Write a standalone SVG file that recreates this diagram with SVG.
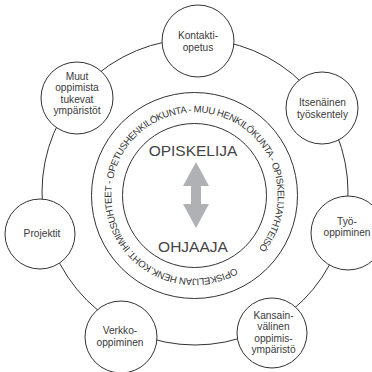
<svg xmlns="http://www.w3.org/2000/svg" width="372" height="372" viewBox="0 0 372 372">
<style>
.node circle{fill:#fff;stroke:#333;stroke-width:1}
.node text{font-family:"Liberation Sans",Arial,sans-serif;font-size:10.2px;fill:#3a3a3a;text-anchor:middle}
.ring{fill:none;stroke:#333;stroke-width:1}
.big{font-family:"Liberation Sans",Arial,sans-serif;font-size:15.5px;fill:#444;text-anchor:middle}
.arc{font-family:"Liberation Sans",Arial,sans-serif;font-size:9.6px;letter-spacing:-0.4px;fill:#333}
</style>
<defs>
<path id="tp" d="M235.37,267.74 A83,83 0 1,1 153.63,123.26 A83,83 0 1,1 235.37,267.74"/>
</defs>
<rect width="372" height="372" fill="#fff"/>
<g id="connectors"><circle class="ring" cx="195" cy="192" r="153"/></g>
<g id="center">
<circle class="ring" cx="194.5" cy="195.5" r="103"/>
<circle class="ring" cx="194.5" cy="195.5" r="72"/>
<text class="arc"><textPath href="#tp">OPISKELIJAN HENK.KOHT. IHMISSUHTEET - OPETUSHENKILÖKUNTA - MUU HENKILÖKUNTA - OPISKELIJAYHTEISÖ</textPath></text>
<text class="big" x="193" y="156">OPISKELIJA</text>
<polygon fill="#afb1b4" points="196,162 209,186 201,186 201,204 209,204 196,228 183,204 191,204 191,186 183,186"/>
<text class="big" x="193" y="252">OHJAAJA</text>
</g>
<g id="kontakti" class="node"><circle cx="198" cy="41" r="36"/><text x="198" y="38.5">Kontakti-</text><text x="198" y="50.5">opetus</text></g>
<g id="itsenainen" class="node"><circle cx="322" cy="108" r="36"/><text x="322.5" y="106">Itsenäinen</text><text x="322.5" y="117.5">työskentely</text></g>
<g id="tyo" class="node"><circle cx="348" cy="233" r="37"/><text x="347" y="224.5">Työ-</text><text x="347" y="236">oppiminen</text></g>
<g id="kansain" class="node"><circle cx="272" cy="333" r="35"/><text x="273.5" y="318.5">Kansain-</text><text x="273.5" y="330">välinen</text><text x="273.5" y="341.5">oppimis-</text><text x="273.5" y="353">ympäristö</text></g>
<g id="verkko" class="node"><circle cx="121" cy="337" r="36"/><text x="120" y="334">Verkko-</text><text x="120" y="345.5">oppiminen</text></g>
<g id="projektit" class="node"><circle cx="40" cy="234" r="35"/><text x="42" y="236.5">Projektit</text></g>
<g id="muut" class="node"><circle cx="77" cy="98" r="36"/><text x="77" y="79.5">Muut</text><text x="77" y="91">oppimista</text><text x="77" y="102.5">tukevat</text><text x="77" y="114">ympäristöt</text></g>
</svg>
